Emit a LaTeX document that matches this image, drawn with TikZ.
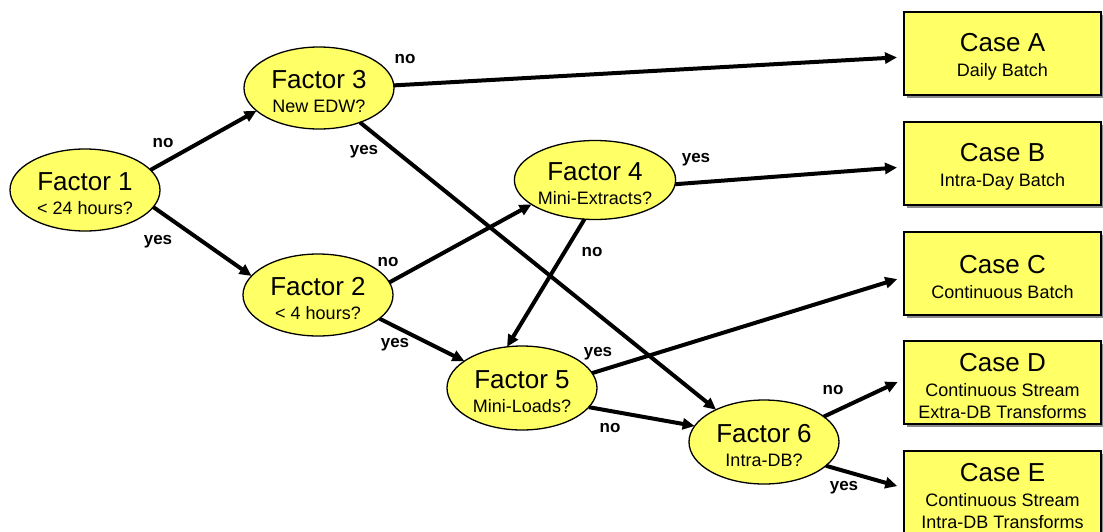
\documentclass[tikz,border=0pt]{standalone}
\usepackage{fontspec}
\setmainfont{Liberation Sans}
\usetikzlibrary{shapes.geometric,arrows.meta,shadows}

\definecolor{boxyellow}{RGB}{255,255,102}
\definecolor{shadowgray}{RGB}{140,140,140}

% heading line of every node, with a taller strut so the text block sits a little low
\newcommand\headfont{\fontsize{26}{26}\selectfont\rule{0pt}{25pt}}

\tikzset{
  factor/.style={ellipse, draw=black, line width=1.3pt, fill=boxyellow,
    minimum width=150pt, minimum height=82pt, inner sep=0pt, outer sep=0pt,
    align=center, font=\fontsize{18}{24.5}\selectfont},
  outcome/.style={rectangle, draw=black, line width=2.2pt, fill=boxyellow,
    minimum width=197pt, minimum height=83pt, inner sep=0pt, outer sep=0pt,
    align=center, font=\fontsize{18}{21.7}\selectfont,
    drop shadow={shadow xshift=2.5pt, shadow yshift=-2.5pt, opacity=1, fill=shadowgray}},
  flow/.style={line width=4pt, -{Triangle[length=12pt,width=11pt]}},
  tobox/.style={flow, shorten >=7pt},
  answer/.style={font=\bfseries\fontsize{17}{17}\selectfont, inner sep=0pt}
}

\begin{document}
\begin{tikzpicture}[x=1pt,y=-1pt]
  \useasboundingbox (0,0) rectangle (1103,531);

  % decision factors
  \node[factor] (f1) at (85,190)  {{\headfont Factor 1}\\< 24 hours?};
  \node[factor] (f3) at (319,88)  {{\headfont Factor 3}\\New EDW?};
  \node[factor] (f2) at (318,295) {{\headfont Factor 2}\\< 4 hours?};
  \node[factor, minimum width=143pt, minimum height=79pt] (f4) at (595,180) {{\headfont Factor 4}\\Mini-Extracts?};
  \node[factor, minimum height=84pt] (f5) at (522,388) {{\headfont Factor 5}\\Mini-Loads?};
  \node[factor, minimum height=84pt] (f6) at (764,442) {{\headfont Factor 6}\\Intra-DB?};

  % outcomes
  \node[outcome] (ca) at (1002.5,53.5)  {{\headfont Case A}\\[4pt]Daily Batch};
  \node[outcome] (cb) at (1002.5,163.5) {{\headfont Case B}\\[4pt]Intra-Day Batch};
  \node[outcome] (cc) at (1002.5,273.5) {{\headfont Case C}\\[4pt]Continuous Batch};
  \node[outcome] (cd) at (1002.5,382.5) {{\headfont Case D}\\[3pt]Continuous Stream\\Extra-DB Transforms};
  \node[outcome] (ce) at (1002.5,492.5) {{\headfont Case E}\\[3pt]Continuous Stream\\Intra-DB Transforms};

  % connectors
  \draw[flow]  (f1.17)    -- (f3.200.5);
  \draw[flow]  (f1.346)   -- (f2.164.6);
  \draw[tobox] (f3.2.3)   -- ([yshift=-3.5pt]ca.west);
  \draw[flow]  (f3.320)   -- (f6.146.8);
  \draw[flow]  (f2.10.7)  -- (f4.201);
  \draw[flow]  (f2.339.5) -- (f5.155.7);
  \draw[tobox] (f4.357.5) -- ([yshift=-3.5pt]cb.west);
  \draw[flow]  (f4.255)   -- (f5.110.7);
  \draw[tobox] (f5.12)    -- ([yshift=-3.5pt]cc.west);
  \draw[flow]  (f5.344.8) -- (f6.167.8);
  \draw[tobox] (f6.23.6)  -- ([yshift=3.5pt]cd.west);
  \draw[tobox] (f6.339.4) -- ([yshift=4.5pt]ce.west);

  % branch answers
  \node[answer] (a13) at (163,142.5) {no};
  \node[answer] (a12) at (158,242)   {yes};
  \node[answer] (a3a) at (405,59)    {no};
  \node[answer] (a36) at (364,152)   {yes};
  \node[answer] (a24) at (388,262)   {no};
  \node[answer] (a25) at (395,345)   {yes};
  \node[answer] (a4b) at (696,160)   {yes};
  \node[answer] (a45) at (592,252)   {no};
  \node[answer] (a5c) at (598,354)   {yes};
  \node[answer] (a56) at (610,428)   {no};
  \node[answer] (a6d) at (833,390)   {no};
  \node[answer] (a6e) at (844,488)   {yes};
\end{tikzpicture}
\end{document}
